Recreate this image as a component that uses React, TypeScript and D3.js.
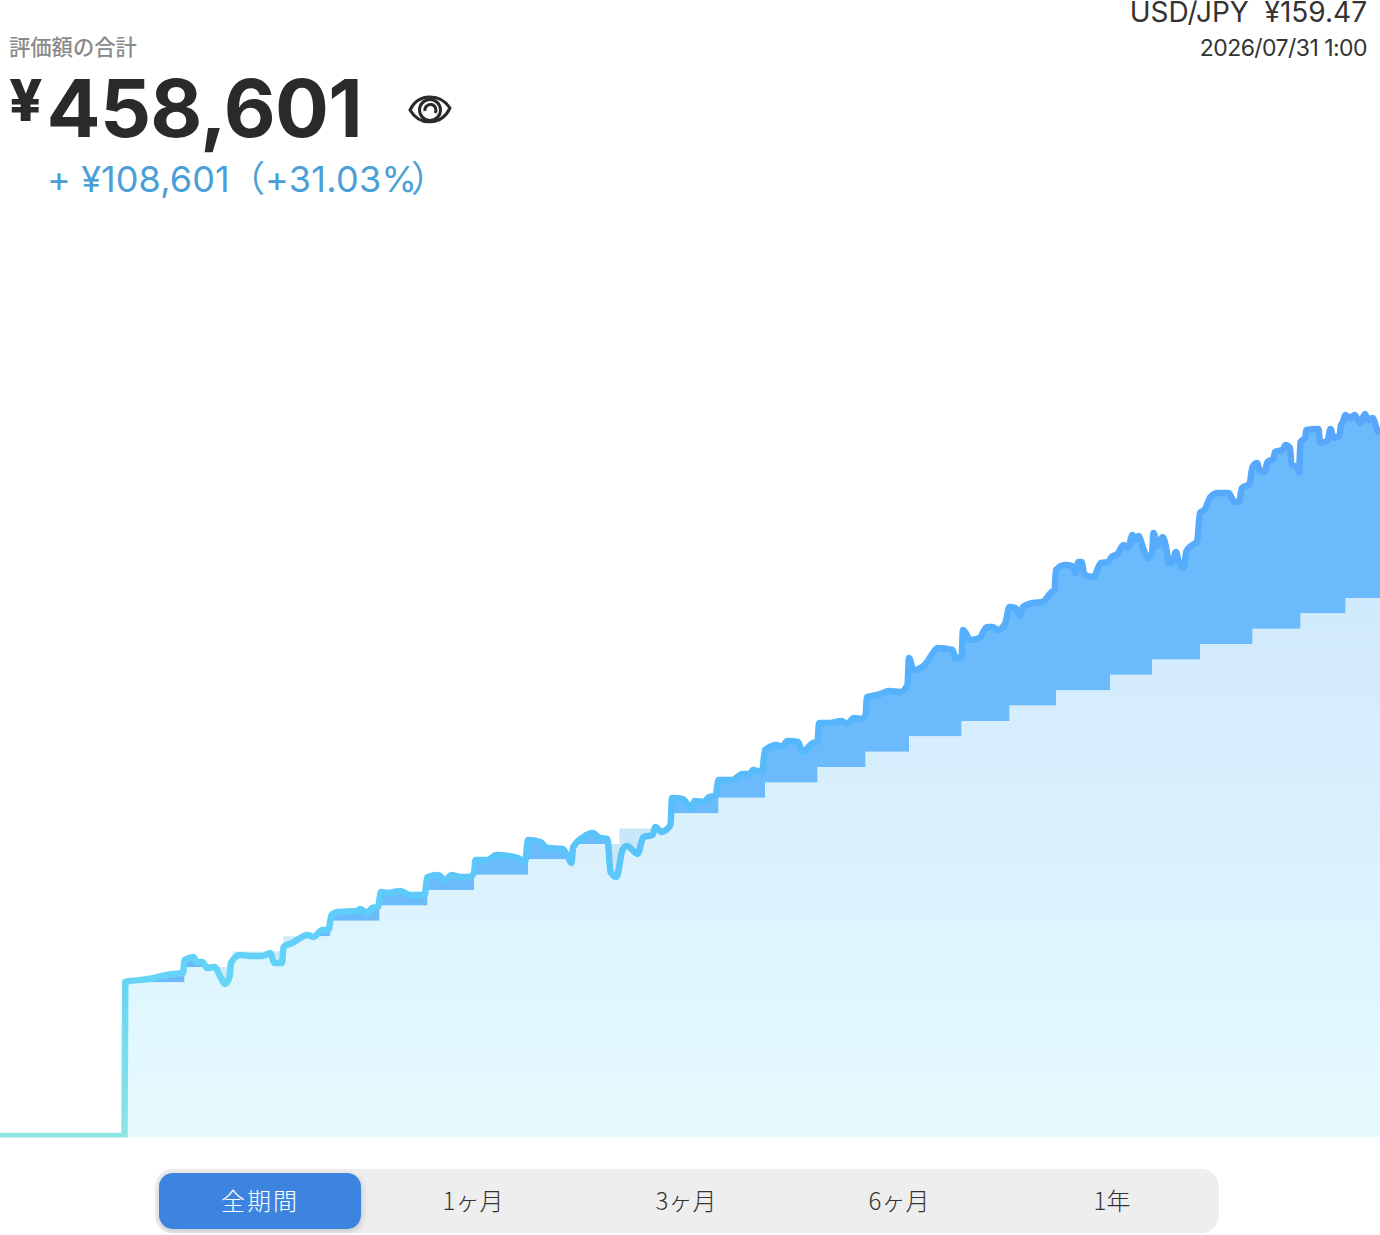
import React, { useMemo } from 'react';
import * as d3 from 'd3';

// contribution steps: day of the deposit and the running total
const principalDays = [83, 123, 155, 189, 220, 253, 285, 316, 352, 380, 413, 447, 479, 510, 545, 577, 606, 641, 673, 704, 740, 768, 800, 835, 867, 897, 920];
const principalYen = [100000, 110000, 120000, 130000, 140000, 150000, 160000, 170000, 180000, 190000, 200000, 210000, 220000, 230000, 240000, 250000, 260000, 270000, 280000, 290000, 300000, 310000, 320000, 330000, 340000, 350000, 350000];

// portfolio value
const valueDays = [0, 83, 83.5, 99, 115, 122, 123, 129, 131, 135, 138, 143, 147, 150, 153, 154, 160, 168, 175, 180, 183, 188, 189, 195, 205, 209, 215, 219, 221, 225, 238, 240, 245, 248, 252, 254, 258, 267, 273, 283, 285, 292, 297, 301, 307, 313, 316, 317, 325, 331, 345, 350, 352, 360, 365, 375, 378, 381, 382, 389, 395, 400, 405, 407, 411, 415, 418, 425, 429, 435, 437, 441, 447, 448, 455, 461, 463, 469, 473, 477, 479, 488, 495, 500, 502, 508, 510, 518, 521, 525, 532, 535, 542, 545, 546, 553, 561, 565, 569, 575, 577, 578, 585, 593, 600, 605, 606, 609, 617, 622, 625, 635, 637, 641, 642, 647, 653, 658, 662, 665, 670, 673, 677, 680, 682, 689, 695, 701, 703, 704, 710, 715, 717, 719, 721, 723, 729, 734, 739, 741, 745, 749, 752, 755, 757, 759, 762, 765, 768, 769, 772, 775, 778, 779, 781, 784, 786, 789, 791, 795, 798, 800, 803, 807, 812, 819, 823, 826, 828, 833, 835, 838, 840, 843, 845, 849, 850, 855, 857, 860, 861, 865, 866, 867, 870, 871, 879, 880, 885, 887, 889, 893, 894, 895, 897, 900, 903, 907, 910, 912, 915, 919, 920];
const valueYen = [0, 0, 100200, 102100, 105400, 106000, 114500, 116500, 113200, 113200, 109300, 110000, 103400, 98900, 103400, 112600, 117800, 117100, 117100, 119100, 112600, 112600, 123000, 125600, 130800, 129500, 134000, 134000, 143800, 145700, 146400, 147700, 145100, 148300, 149000, 158700, 158100, 159400, 156800, 156800, 168500, 169800, 166600, 169800, 168500, 168500, 171100, 179600, 179600, 182800, 180900, 178300, 192600, 191300, 187400, 186700, 182800, 177600, 187400, 194500, 197100, 193900, 193200, 171800, 168500, 186100, 188700, 183500, 194500, 195800, 201000, 197800, 202300, 219900, 219200, 213400, 218000, 217300, 220600, 221200, 231600, 231600, 235500, 235500, 238100, 236800, 251100, 254400, 253100, 257000, 256300, 249800, 255700, 256300, 268700, 268700, 270000, 268000, 272000, 271300, 273900, 285600, 286900, 289500, 288900, 293400, 311000, 303200, 307100, 314200, 317500, 316200, 311000, 311600, 329200, 322700, 324000, 331200, 331200, 329200, 333100, 344200, 343500, 338300, 344200, 346800, 347400, 353900, 355200, 368200, 371500, 370800, 366300, 373400, 373400, 365000, 363700, 372800, 373400, 376700, 378600, 384500, 382600, 391000, 387800, 390400, 382600, 376100, 379300, 392300, 383900, 389700, 379300, 372800, 372800, 379900, 372800, 369500, 380600, 384500, 386500, 405300, 407300, 415700, 418300, 418300, 412500, 412500, 421600, 424200, 435300, 437800, 432600, 432000, 438500, 440500, 445000, 446300, 449600, 447600, 436600, 435300, 431400, 451500, 454100, 459300, 460000, 450900, 452200, 460000, 454100, 455400, 462600, 463900, 469100, 467100, 469100, 463900, 469700, 465800, 467100, 458000, 458601];

const periodLabels = ['全期間', '1ヶ月', '3ヶ月', '6ヶ月', '1年'];

const WIDTH = 1380;
const HEIGHT = 1235;
const BASE_Y = 1136;
const JP = '"Noto Sans CJK JP", sans-serif';
const LATIN = 'Inter, "Liberation Sans", sans-serif';

export default function App() {
  const x = useMemo(() => d3.scaleLinear().domain([0, 920]).range([0, WIDTH]), []);
  const y = useMemo(() => d3.scaleLinear().domain([0, 350000]).range([BASE_Y, 598]), []);

  const valuePts = valueDays.map((d, i) => [d, valueYen[i]] as [number, number]);
  const principalPts = principalDays.map((d, i) => [d, principalYen[i]] as [number, number]);

  const valueArea = d3.area<[number, number]>().curve(d3.curveMonotoneX).x(d => x(d[0])).y0(BASE_Y + 1).y1(d => y(d[1]))(valuePts) as string;
  const valueLine = d3.line<[number, number]>().curve(d3.curveMonotoneX).x(d => x(d[0])).y(d => y(d[1]))(valuePts) as string;
  const principalArea = d3.area<[number, number]>().curve(d3.curveStepAfter).x(d => x(d[0])).y0(BASE_Y + 1).y1(d => y(d[1]))(principalPts) as string;

  // five equal-ish tabs inside the grey track
  const tabX = d3.scalePoint<string>().domain(periodLabels).range([260, 1112]);

  return (
    <svg width={WIDTH} height={HEIGHT} style={{ position: 'absolute', left: 0, top: 0, display: 'block', background: '#fff' }}>
      <defs>
        <linearGradient id="lineGrad" gradientUnits="userSpaceOnUse" x1="0" y1={BASE_Y} x2="0" y2="420">
          <stop offset="0" stopColor="#8ce6e4" />
          <stop offset="0.25" stopColor="#62d2f8" />
          <stop offset="0.45" stopColor="#58c0fb" />
          <stop offset="0.65" stopColor="#54b0fc" />
          <stop offset="1" stopColor="#57a6fc" />
        </linearGradient>
        <linearGradient id="baseGrad" gradientUnits="userSpaceOnUse" x1="0" y1="598" x2="0" y2={BASE_Y}>
          <stop offset="0" stopColor="#d0e9fc" />
          <stop offset="1" stopColor="#e6fbff" />
        </linearGradient>
        <linearGradient id="deficitGrad" gradientUnits="userSpaceOnUse" x1="0" y1="598" x2="0" y2={BASE_Y}>
          <stop offset="0" stopColor="#bde0f8" />
          <stop offset="1" stopColor="#d5f0f8" />
        </linearGradient>
        <clipPath id="underValue">
          <path d={valueArea} />
        </clipPath>
        <filter id="pillShadow" x="-10%" y="-20%" width="120%" height="140%">
          <feDropShadow dx="1" dy="2" stdDeviation="3" floodColor="#000" floodOpacity="0.18" />
        </filter>
      </defs>

      {/* header */}
      <text x={9} y={55} fontFamily={JP} fontSize={21.3} fontWeight={500} fill="#8a8a8a">評価額の合計</text>
      <text x={9} y={121} fontFamily={LATIN} fontSize={58} fontWeight={800} fill="#2a2a2a">¥</text>
      <text x={46.5} y={137} fontFamily={LATIN} fontSize={80} fontWeight={700} letterSpacing={-0.7} fill="#2a2a2a">458,601</text>
      <g transform="translate(430,110)" fill="none" stroke="#2a2a2a" strokeWidth={3}>
        <path d="M-20,0 C-12,-17 10,-17 20,-2 C12,15 -10,17 -20,0 Z" />
        <circle cx={0} cy={0} r={10.5} />
        <path d="M-5,1 A5.5,5.5 0 1 1 5,3" />
      </g>
      <text x={47} y={192} fontFamily={LATIN} fontSize={36} letterSpacing={0.1} fill="#4a9fd6">+ ¥108,601</text>
      <text x={229} y={192} fontFamily={JP} fontSize={36} fill="#4a9fd6">（</text>
      <text x={265} y={192} fontFamily={LATIN} fontSize={36} letterSpacing={0.3} fill="#4a9fd6">+31.03%</text>
      <text x={411} y={192} fontFamily={JP} fontSize={36} fill="#4a9fd6">）</text>
      <text x={1367} y={22} textAnchor="end" fontFamily={LATIN} fontSize={28} fill="#333" xmlSpace="preserve">USD/JPY  ¥159.47</text>
      <text x={1367} y={56} textAnchor="end" fontFamily={LATIN} fontSize={23} letterSpacing={-0.55} fill="#333">2026/07/31 1:00</text>

      {/* chart */}
      <path d={valueArea} fill="#6bbafb" />
      <path d={principalArea} fill="url(#deficitGrad)" />
      <path d={principalArea} fill="url(#baseGrad)" clipPath="url(#underValue)" />
      <path d={valueLine} fill="none" stroke="url(#lineGrad)" strokeWidth={6.5} strokeLinejoin="round" strokeLinecap="round" />
      <rect x={0} y={BASE_Y + 1.5} width={WIDTH} height={HEIGHT - BASE_Y - 1.5} fill="#fff" />

      {/* period switch */}
      <rect x={155} y={1169} width={1064} height={64} rx={18} fill="#eeeeee" />
      <rect x={159} y={1173} width={202} height={56} rx={14} fill="#3d84e0" filter="url(#pillShadow)" />
      {periodLabels.map((label, i) => (
        <text key={label} x={tabX(label)} y={1210} textAnchor="middle" fontFamily={JP} fontSize={24} fontWeight={300} letterSpacing={i === 0 ? 2 : 0} fill={i === 0 ? '#fff' : '#333'}>{label}</text>
      ))}
    </svg>
  );
}
